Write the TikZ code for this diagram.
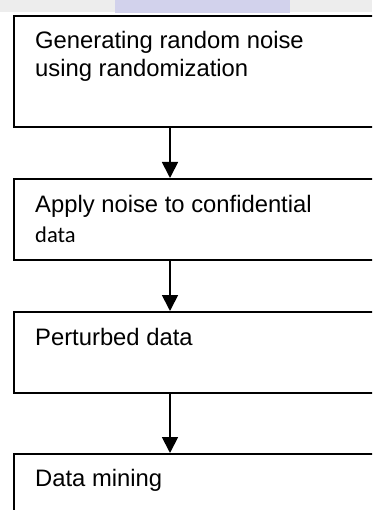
\documentclass[tikz,border=0pt]{standalone}
\usepackage{fontspec}
\setmainfont{Liberation Sans}
\newfontfamily\calfont{Carlito}
\usepackage{tikz}
\usetikzlibrary{arrows.meta,positioning}

\begin{document}
\begin{tikzpicture}
[x=1pt,y=-1pt,
 stepbox/.style={draw=black,line width=1.6pt,inner sep=0pt,minimum width=400pt},
 txt/.style={inner sep=0pt,anchor=base west,align=left,font=\fontsize{23.8}{28}\selectfont},
 flow/.style={line width=1.8pt,-{Triangle[width=16pt,length=16pt]}}]
\useasboundingbox (0,0) rectangle (372,510);
\clip (0,0) rectangle (372,510);

% faint band at the top
\fill[black!7] (0,0) rectangle (372,12);
\fill[blue!40!gray!25] (115,0) rectangle (290,13);

\node[stepbox,minimum height=111pt,anchor=north west] (b1) at (13,15) {};
\node[stepbox,minimum height=81pt,anchor=north west] (b2) at (13,178) {};
\node[stepbox,minimum height=81pt,anchor=north west] (b3) at (13,311) {};
\node[stepbox,minimum height=81pt,anchor=north west] (b4) at (13,453) {};

% base of a two-line node is its last line
\node[txt] (t1) at (35,77) {Generating random noise\\using randomization};
\node[txt] (t2) at (35,242.5) {Apply noise to confidential\\[2pt]{\calfont\fontsize{22.5}{28}\selectfont data}};
\node[txt] (t3) at (35,345) {Perturbed data};
\node[txt] (t4) at (35,486.5) {Data mining};

\draw [flow] ([xshift=157pt]b1.south west) -- ([xshift=157pt]b2.north west);
\draw [flow] ([xshift=157pt]b2.south west) -- ([xshift=157pt]b3.north west);
\draw [flow] ([xshift=157pt]b3.south west) -- ([xshift=157pt]b4.north west);
\end{tikzpicture}
\end{document}
